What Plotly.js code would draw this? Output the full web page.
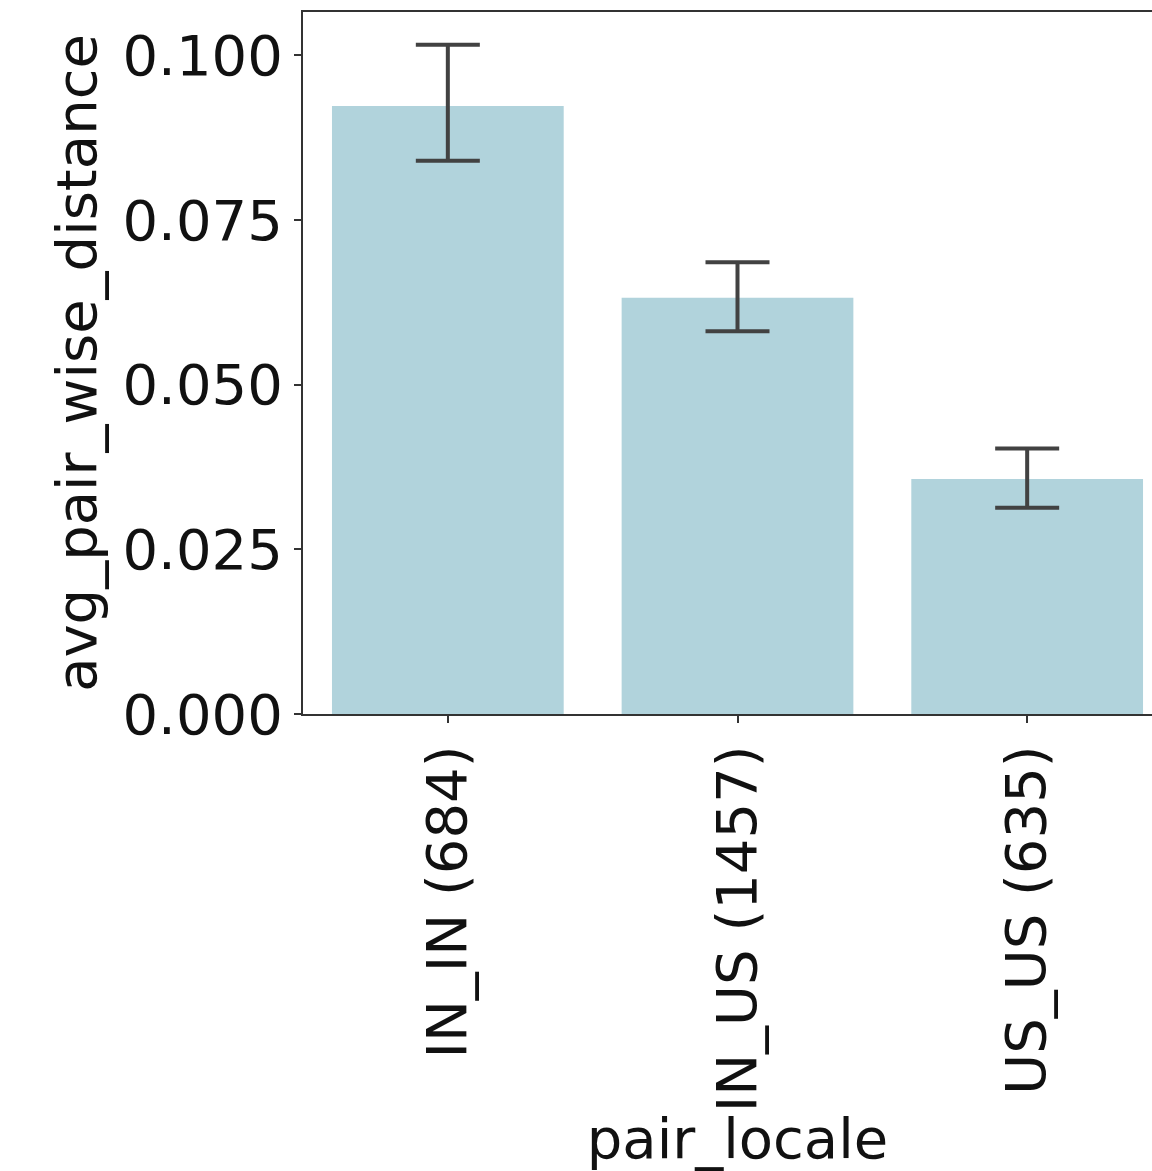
<!DOCTYPE html>
<html>
<head>
<meta charset="utf-8">
<script src="https://cdn.plot.ly/plotly-3.0.1.min.js"></script>
<style>
  html, body { margin: 0; padding: 0; overflow: hidden; background: #fff; }
  #chart { width: 1172px; height: 1171px; }
</style>
</head>
<body>
<div id="chart"></div>
<script>
// Data
const categories = ["IN_IN (684)", "IN_US (1457)", "US_US (635)"];
const meanDistance = [0.0923, 0.0632, 0.0357];
const ciUpper = [0.1016, 0.0686, 0.0403];
const ciLower = [0.0840, 0.0581, 0.0313];
const yTickValues = [0.000, 0.025, 0.050, 0.075, 0.100];
const yTickLabels = ["0.000", "0.025", "0.050", "0.075", "0.100"];

const errPlus = meanDistance.map((m, i) => ciUpper[i] - m);
const errMinus = meanDistance.map((m, i) => m - ciLower[i]);

const FONT = "DejaVu Sans, Liberation Sans, sans-serif";
const FS = 56;

const trace = {
  type: "bar",
  x: categories,
  y: meanDistance,
  width: 0.8,
  marker: { color: "#b1d3dc", line: { width: 0 } },
  error_y: {
    type: "data",
    symmetric: false,
    array: errPlus,
    arrayminus: errMinus,
    color: "#424242",
    thickness: 4,
    width: 32,
    visible: true
  },
  hoverinfo: "none"
};

const layout = {
  width: 1172,
  height: 1171,
  margin: { l: 303, r: 0, t: 12, b: 457 },
  paper_bgcolor: "#ffffff",
  plot_bgcolor: "#ffffff",
  showlegend: false,
  font: { family: FONT, size: FS, color: "#111111" },
  bargap: 0.2,
  xaxis: {
    type: "category",
    range: [-0.5, 2.5],
    showgrid: false,
    zeroline: false,
    showline: true,
    mirror: true,
    linecolor: "#333333",
    linewidth: 2,
    ticks: "outside",
    ticklen: 7,
    tickwidth: 2,
    tickcolor: "#333333",
    tickangle: -90,
    tickfont: { family: FONT, size: FS, color: "#111111" },
    title: { text: "pair_locale", font: { family: FONT, size: FS, color: "#111111" }, standoff: 6 },
    automargin: false,
    fixedrange: true
  },
  yaxis: {
    range: [0, 0.10659],
    tickmode: "array",
    tickvals: yTickValues,
    ticktext: yTickLabels,
    showgrid: false,
    zeroline: false,
    showline: true,
    mirror: true,
    linecolor: "#333333",
    linewidth: 2,
    ticks: "outside",
    ticklen: 7,
    tickwidth: 2,
    tickcolor: "#333333",
    tickfont: { family: FONT, size: FS, color: "#111111" },
    title: { text: "avg_pair_wise_distance", font: { family: FONT, size: FS, color: "#111111" }, standoff: 8 },
    automargin: false,
    fixedrange: true
  }
};

Plotly.newPlot("chart", [trace], layout, { displayModeBar: false, staticPlot: true });
</script>
</body>
</html>
